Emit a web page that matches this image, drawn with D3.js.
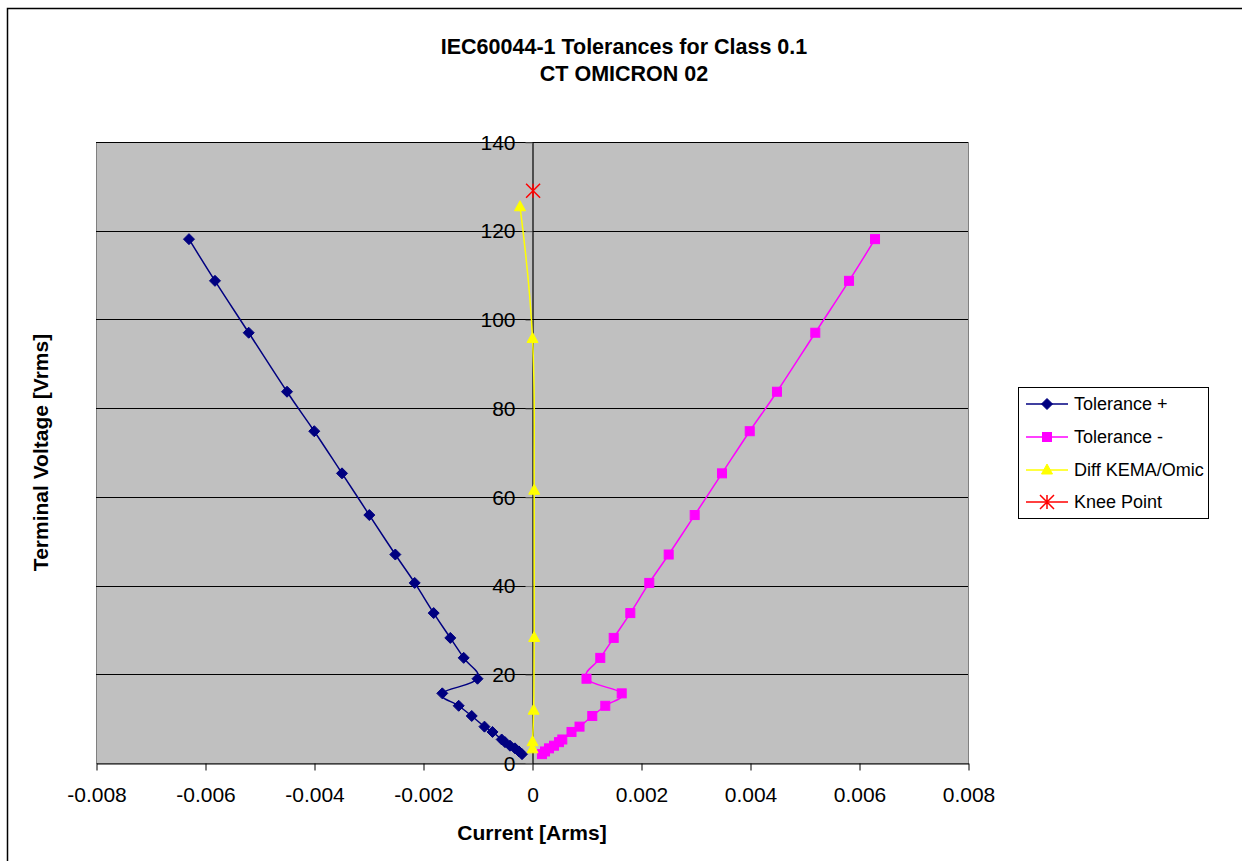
<!DOCTYPE html>
<html>
<head>
<meta charset="utf-8">
<script src="https://cdn.jsdelivr.net/npm/d3@7"></script>
<style>
  html, body { margin: 0; padding: 0; background: #fff; }
  svg { display: block; }
  text { font-family: "Liberation Sans", Arial, sans-serif; fill: #000; }
</style>
</head>
<body>
<svg id="chart" width="1242" height="861"></svg>
<script>
// Measured CT excitation tolerance bands (current in A, voltage in V)
const tolPlusCurrent = [-0.000183, -0.000239, -0.000312, -0.000404, -0.000495, -0.000556, -0.000725, -0.000872,
  -0.001106, -0.001345, -0.001646, -0.001000, -0.001253, -0.001499, -0.001804, -0.002152, -0.002508,
  -0.002985, -0.003486, -0.003995, -0.004495, -0.005198, -0.005817, -0.006294];
const tolPlusVoltage = [2.0, 2.6, 3.3, 3.9, 4.7, 5.3, 7.0, 8.2, 10.6, 12.9, 15.7, 19.0, 23.7, 28.2, 33.8,
  40.6, 47.0, 55.9, 65.3, 74.8, 83.7, 97.0, 108.7, 118.1];

const tolMinusCurrent = [0.000183, 0.000239, 0.000312, 0.000404, 0.000495, 0.000556, 0.000725, 0.000872,
  0.001106, 0.001345, 0.001646, 0.001000, 0.001253, 0.001499, 0.001804, 0.002152, 0.002508,
  0.002985, 0.003486, 0.003995, 0.004495, 0.005198, 0.005817, 0.006294];
const tolMinusVoltage = [2.0, 2.6, 3.3, 3.9, 4.7, 5.3, 7.0, 8.2, 10.6, 12.9, 15.7, 19.0, 23.7, 28.2, 33.8,
  40.6, 47.0, 55.9, 65.3, 74.8, 83.7, 97.0, 108.7, 118.1];

const diffCurrent = [0.00001, 0.00001, 0.00003, 0.00004, 0.00004, 0.00001, -0.00022];
const diffVoltage = [3.2, 4.8, 11.9, 28.3, 61.5, 95.7, 125.4];

const kneeCurrent = [0.00002];
const kneeVoltage = [129];

const xTicks = [-0.008, -0.006, -0.004, -0.002, 0, 0.002, 0.004, 0.006, 0.008];
const xTickLabels = ["-0.008", "-0.006", "-0.004", "-0.002", "0", "0.002", "0.004", "0.006", "0.008"];
const yTicks = [0, 20, 40, 60, 80, 100, 120, 140];

const seriesNames = ["Tolerance +", "Tolerance -", "Diff KEMA/Omic", "Knee Point"];
const titleLines = ["IEC60044-1 Tolerances for Class 0.1", "CT OMICRON 02"];

const zip = (xs, ys) => xs.map((x, i) => ({ x, y: ys[i] }));
const series = [
  { name: seriesNames[0], color: "#000080", marker: "diamond", line: true, data: zip(tolPlusCurrent, tolPlusVoltage) },
  { name: seriesNames[1], color: "#FF00FF", marker: "square", line: true, data: zip(tolMinusCurrent, tolMinusVoltage) },
  { name: seriesNames[2], color: "#FFFF00", marker: "triangle", line: true, data: zip(diffCurrent, diffVoltage) },
  { name: seriesNames[3], color: "#FF0000", marker: "star", line: false, data: zip(kneeCurrent, kneeVoltage) }
];

const svg = d3.select("#chart");
const plot = { left: 96, right: 968, top: 142, bottom: 763 };

const x = d3.scaleLinear().domain([-0.008, 0.008]).range([plot.left, plot.right]);
const y = d3.scaleLinear().domain([0, 140]).range([plot.bottom, plot.top]);

// Chart frame
svg.append("rect").attr("x", 7.5).attr("y", 8.5).attr("width", 1300).attr("height", 900)
  .attr("fill", "#fff").attr("stroke", "#000").attr("stroke-width", 1.5);

// Plot area
svg.append("rect")
  .attr("x", plot.left + 0.5).attr("y", plot.top + 0.5)
  .attr("width", plot.right - plot.left).attr("height", plot.bottom - plot.top)
  .attr("fill", "#C0C0C0").attr("stroke", "#808080").attr("stroke-width", 1);

// Horizontal gridlines
svg.append("g").selectAll("line").data(yTicks.filter(v => v > 0)).join("line")
  .attr("x1", plot.left).attr("x2", plot.right)
  .attr("y1", d => Math.round(y(d)) + 0.5).attr("y2", d => Math.round(y(d)) + 0.5)
  .attr("stroke", "#000").attr("stroke-width", 1);

// X axis along V = 0
const xAxis = svg.append("g")
  .attr("transform", `translate(0.5,${Math.round(y(0)) + 0.5})`)
  .call(d3.axisBottom(x).tickValues(xTicks).tickFormat((d, i) => xTickLabels[i])
    .tickSizeInner(7).tickSizeOuter(0).tickPadding(17));
xAxis.select(".domain").attr("stroke", "#000");
xAxis.selectAll(".tick line").attr("stroke", "#000");
xAxis.selectAll(".tick text").attr("font-size", "21px").attr("font-family", "Liberation Sans, Arial, sans-serif");

// Y axis crossing at I = 0
const yAxis = svg.append("g")
  .attr("transform", `translate(${Math.round(x(0)) + 0.5},0.5)`)
  .call(d3.axisLeft(y).tickValues(yTicks).tickSizeInner(7).tickSizeOuter(0).tickPadding(10));
yAxis.select(".domain").attr("stroke", "#000").attr("stroke-width", 1.2);
yAxis.selectAll(".tick line").attr("stroke", "#808080");
yAxis.selectAll(".tick text").attr("font-size", "21px").attr("font-family", "Liberation Sans, Arial, sans-serif");

// Marker shapes
function drawMarker(g, type, color, cx, cy) {
  if (type === "diamond") {
    g.append("path").attr("d", `M${cx},${cy - 5.5}L${cx + 5.5},${cy}L${cx},${cy + 5.5}L${cx - 5.5},${cy}Z`)
      .attr("fill", color).attr("stroke", color).attr("stroke-width", 1);
  } else if (type === "square") {
    g.append("rect").attr("x", cx - 4.5).attr("y", cy - 4.5).attr("width", 9).attr("height", 9)
      .attr("fill", color).attr("stroke", color).attr("stroke-width", 1);
  } else if (type === "triangle") {
    g.append("path").attr("d", `M${cx},${cy - 6}L${cx + 5.5},${cy + 4}L${cx - 5.5},${cy + 4}Z`)
      .attr("fill", color).attr("stroke", color).attr("stroke-width", 1);
  } else if (type === "star") {
    const r = 7;
    g.append("path")
      .attr("d", `M${cx - r},${cy - r}L${cx + r},${cy + r}M${cx - r},${cy + r}L${cx + r},${cy - r}M${cx},${cy - r}L${cx},${cy + r}`)
      .attr("stroke", color).attr("stroke-width", 1.5).attr("fill", "none");
  }
}

// Smoothed polylines
const line = d3.line().x(d => x(d.x)).y(d => y(d.y)).curve(d3.curveCardinal.tension(-0.2));

series.forEach(s => {
  const g = svg.append("g");
  if (s.line) {
    g.append("path").datum(s.data).attr("d", line)
      .attr("fill", "none").attr("stroke", s.color).attr("stroke-width", 1.5);
  }
  s.data.forEach(p => drawMarker(g, s.marker, s.color, x(p.x), y(p.y)));
});

// Titles
const title = svg.append("text").attr("x", 624).attr("text-anchor", "middle")
  .attr("font-size", "21.5px").attr("font-weight", "bold");
title.append("tspan").attr("x", 624).attr("y", 54).text(titleLines[0]);
title.append("tspan").attr("x", 624).attr("y", 81).text(titleLines[1]);

svg.append("text").attr("x", (plot.left + plot.right) / 2).attr("y", 840)
  .attr("text-anchor", "middle").attr("font-size", "21px").attr("font-weight", "bold")
  .text("Current [Arms]");

svg.append("text")
  .attr("transform", `translate(48,${(plot.top + plot.bottom) / 2}) rotate(-90)`)
  .attr("text-anchor", "middle").attr("font-size", "21px").attr("font-weight", "bold")
  .text("Terminal Voltage [Vrms]");

// Legend
const legend = svg.append("g");
legend.append("rect").attr("x", 1018.5).attr("y", 387.5).attr("width", 190).attr("height", 131)
  .attr("fill", "#fff").attr("stroke", "#000").attr("stroke-width", 1);
const rowY = [404, 437, 470, 502];
series.forEach((s, i) => {
  const cy = rowY[i];
  legend.append("line").attr("x1", 1026).attr("x2", 1068).attr("y1", cy).attr("y2", cy)
    .attr("stroke", s.color).attr("stroke-width", 1.5);
  drawMarker(legend, s.marker, s.color, 1047, cy);
  legend.append("text").attr("x", 1074).attr("y", cy).attr("dy", "0.35em")
    .attr("font-size", "18px").text(s.name);
});
</script>
</body>
</html>
